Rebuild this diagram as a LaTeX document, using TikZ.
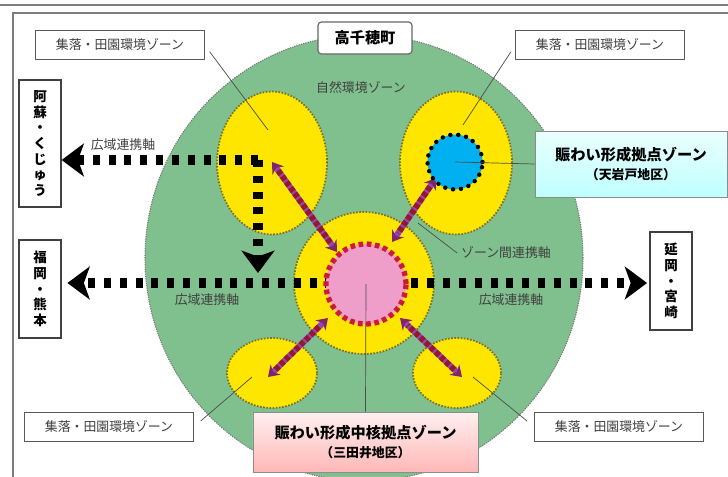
\documentclass[tikz,border=0pt]{standalone}
\usepackage{fontspec}
\setmainfont{Noto Sans CJK JP}
\usepackage{tikz}
\usetikzlibrary{positioning, arrows.meta, shapes.geometric, shadows, calc}

\definecolor{townGreen}{RGB}{128,192,142}
\definecolor{zoneYellow}{RGB}{255,230,0}
\definecolor{zoneRim}{RGB}{120,112,40}
\definecolor{hubPink}{RGB}{238,158,200}
\definecolor{hubRed}{RGB}{205,25,60}
\definecolor{baseBlue}{RGB}{0,176,240}
\definecolor{linkPurple}{RGB}{135,75,175}
\definecolor{linkTip}{RGB}{130,35,110}
\definecolor{linkRed}{RGB}{155,20,50}
\definecolor{frameGray}{RGB}{125,125,125}

\tikzstyle{zone} = [ellipse, inner sep=0pt, fill=zoneYellow, draw=zoneRim, line width=1.5pt, dash pattern=on 1.4pt off 1.3pt]
\tikzstyle{tag} = [rectangle, draw=black!65, fill=white, line width=0.8pt, minimum width=5.05cm, minimum height=0.88cm, text=black!75, font=\fontsize{11}{13}\selectfont]
\tikzstyle{dest} = [rectangle, draw=black!75, fill=white, line width=1pt, minimum width=1.26cm, inner sep=0pt, align=center, font=\bfseries\fontsize{11.5}{13.4}\selectfont]
\tikzstyle{hubbox} = [rectangle, draw=black!45, line width=0.6pt, align=center, font=\bfseries, drop shadow={shadow xshift=1pt, shadow yshift=-1.2pt, fill=black!50}]
\tikzstyle{axis} = [line width=9pt, dash pattern=on 6pt off 7.5pt, -{Stealth[length=19pt, width=28pt, inset=5pt]}]
\tikzstyle{axislabel} = [text=black!75, font=\fontsize{11}{13}\selectfont]
\tikzstyle{link} = [line width=5pt, linkPurple, {Stealth[length=9pt, width=12pt, color=linkTip]}-{Stealth[length=9pt, width=12pt, color=linkTip]}]
\tikzstyle{linkdash} = [line width=5pt, linkRed, dash pattern=on 4pt off 2pt, shorten <=9pt, shorten >=9pt]
\tikzstyle{leader} = [draw=black!70, line width=0.6pt]

\begin{document}
\begin{tikzpicture}[x=0.03cm, y=-0.03cm, node distance=1.5cm]
        \useasboundingbox (0,0) rectangle (728,477);
        % page frame
        \draw [frameGray, line width=2pt] (0,5) -- (728,5);
        \draw [frameGray, line width=1.4pt] (728,13) -- (13,13) -- (13,477);

        % town and its zones
        \node (town) [ellipse, inner sep=0pt, minimum width=13.14cm, minimum height=13.38cm, fill=townGreen, draw=black!55, line width=0.9pt, dash pattern=on 1pt off 1pt] at (364,258) {};
        \node (title) [rectangle, rounded corners=3pt, draw=black!60, fill=white, line width=1pt, minimum width=2.82cm, minimum height=0.96cm, font=\bfseries\fontsize{13}{15}\selectfont] at (365,38) {高千穂町};
        \node (nature) [axislabel, below of=title, xshift=-0.12cm] {自然環境ゾーン};

        \node (zoneNW) [zone, minimum width=3.3cm, minimum height=4.29cm] at (272,163) {};
        \node (zoneNE) [zone, minimum width=3.36cm, minimum height=4.29cm] at (456,163) {};
        \node (zoneC) [zone, minimum width=4.2cm, minimum height=4.26cm] at (364,283) {};
        \node (zoneSW) [zone, minimum width=2.7cm, minimum height=2.1cm] at (272,373) {};
        \node (zoneSE) [zone, minimum width=2.64cm, minimum height=2.1cm] at (457,373) {};

        % destinations
        \node (aso) [dest, minimum height=3.81cm] at (40,143.5) {阿\\蘇\\・\\く\\じ\\ゅ\\う};
        \node (fukuoka) [dest, minimum height=2.94cm] at (40,289) {福\\岡\\・\\熊\\本};
        \node (nobeoka) [dest, minimum height=2.94cm] at (671,281) {延\\岡\\・\\宮\\崎};

        % wide-area axes
        \coordinate (bend) at (258,160);
        \coordinate (drop) at (258,273);
        \coordinate (mid) at (364,283);
        \draw [axis] (bend) -- (bend -| aso.east);
        \draw [axis] (bend) -- (drop);
        \draw [axis, shorten >=5pt] (mid) -- (mid -| fukuoka.east);
        \draw [axis, shorten >=2pt] (mid) -- (mid -| nobeoka.west);
        \node (wideNW) [axislabel] at (123,145) {広域連携軸};
        \node (wideW) [axislabel] at (207,300) {広域連携軸};
        \node (wideE) [axislabel] at (511,300) {広域連携軸};

        % links between zones
        \coordinate (nwIn) at (272,162);
        \coordinate (nwOut) at (337,252);
        \coordinate (neIn) at (436,178);
        \coordinate (neOut) at (392,242);
        \coordinate (swIn) at (268,377);
        \coordinate (swOut) at (328,318);
        \coordinate (seIn) at (462,377);
        \coordinate (seOut) at (400,318);
        \foreach \a/\b in {nwIn/nwOut, neIn/neOut, swIn/swOut, seIn/seOut}{
                \draw [link] (\a) -- (\b);
                \draw [linkdash] (\a) -- (\b);
        }

        % cores
        \node (mitaiCore) [circle, inner sep=0pt, minimum size=2.4cm, fill=hubPink, draw=hubRed, line width=4.5pt, dash pattern=on 4pt off 3pt] at (366,284) {};
        \node (iwatoCore) [circle, inner sep=0pt, minimum size=1.65cm, fill=baseBlue, draw=black, line width=3.8pt, dash pattern=on 0pt off 6.8pt, line cap=round] at (455,162) {};

        % labels
        \node (lblNW) [tag] at (120,45) {集落・田園環境ゾーン};
        \node (lblNE) [tag] at (600,45) {集落・田園環境ゾーン};
        \node (lblSW) [tag] at (109,427) {集落・田園環境ゾーン};
        \node (lblSE) [tag] at (619,427) {集落・田園環境ゾーン};
        \node (zoneLink) [axislabel] at (506,253) {ゾーン間連携軸};
        \node (iwato) [hubbox, top color=cyan!8, bottom color=cyan!25, minimum width=5.76cm, minimum height=1.98cm] at (631,164) {{\fontsize{13}{15}\selectfont 賑わい形成拠点ゾーン}\\[4pt]{\fontsize{11}{13}\selectfont （天岩戸地区）}};
        \node (mitai) [hubbox, top color=red!6, bottom color=red!28, minimum width=6.75cm, minimum height=1.8cm] at (365.5,442) {{\fontsize{13}{15}\selectfont 賑わい形成中核拠点ゾーン}\\[4pt]{\fontsize{11}{13}\selectfont （三田井地区）}};

        \coordinate (nwPin) at (268,130);
        \coordinate (nePin) at (463,125);
        \coordinate (swPin) at (252,377);
        \coordinate (sePin) at (473,377);
        \coordinate (linkPin) at (418,223);
        \draw [leader, shorten <=7pt] (lblNW.east) -- (nwPin);
        \draw [leader, shorten <=7pt] (lblNE.west) -- (nePin);
        \draw [leader, shorten <=8pt] (lblSW.east) -- (swPin);
        \draw [leader, shorten <=8pt] (lblSE.west) -- (sePin);
        \draw [leader] (linkPin) -- (zoneLink.west);
        \draw [leader] (iwatoCore.center) -- (iwato.west);
        \draw [leader] (mitaiCore.center) -- (mitai.north);

        \end{tikzpicture}
\end{document}
